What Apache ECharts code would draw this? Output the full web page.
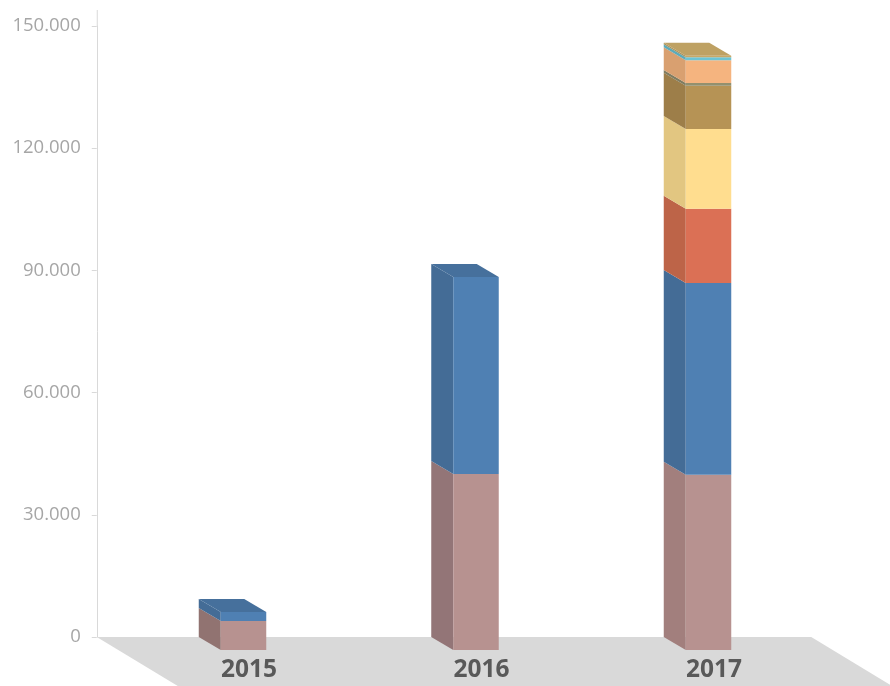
<!DOCTYPE html>
<html>
<head>
<meta charset="utf-8">
<style>html,body{margin:0;padding:0;background:#fff}#chart{width:890px;height:686px}</style>
<script src="https://cdn.jsdelivr.net/npm/echarts@6/dist/echarts.min.js"></script>
</head>
<body>
<div id="chart"></div>
<script>
const categories = ['2015', '2016', '2017']
const tickMax = 150000
const tickStep = 30000

// stacked from the floor up
const layerRose   = [7100, 43200, 43000]
const layerBlue   = [2200, 48400, 47100]
const layerRed    = [0, 0, 18200]
const layerYellow = [0, 0, 19600]
const layerBrown  = [0, 0, 10600]
const layerOlive  = [0, 0, 700]
const layerOrange = [0, 0, 5600]
const layerCyan   = [0, 0, 700]
const layerTan    = [0, 0, 400]

const layers = [layerRose, layerBlue, layerRed, layerYellow, layerBrown, layerOlive, layerOrange, layerCyan, layerTan]
const frontColors = ['#b79290', '#4f80b3', '#db7055', '#ffdd8f', '#b69355', '#93906e', '#f5b47f', '#6cc4d4', '#c8a867']
const sideColors  = ['#a27f7d', '#446c96', '#bd6448', '#e2c681', '#9d7e49', '#7f7c60', '#d9a070', '#5eaab8', '#ad9259']
const topColors   = ['#a27f7d', '#46709c', '#bd6448', '#e2c681', '#9d7e49', '#7f7c60', '#d9a070', '#5eaab8', '#bea163']
const roseSideByCat = ['#917371', '#937577', '#a27f7d']

const DEPTH_X = 22, DEPTH_Y = 13, BAR_W = 45.5

const fmtTick = v => String(v).replace(/\B(?=(\d{3})+$)/g, '.')

function renderFloor(params, api) {
  const cs = params.coordSys
  const y0 = cs.y + cs.height
  const l = cs.x - 8, r = cs.x + cs.width + 9
  return {
    type: 'group',
    children: [
      { type: 'polygon', shape: { points: [[l, y0], [r, y0], [r + 81, y0 + 49], [l + 81, y0 + 49]] }, style: { fill: '#d9d9d9' } },
      { type: 'line', shape: { x1: l + .5, y1: cs.y, x2: l + .5, y2: cs.y - 16 }, style: { stroke: '#d9d9d9', lineWidth: 1 } },
    ],
  }
}

function makeRenderBar(layerIdx) {
  return function (params, api) {
    const cat = api.value(0), lo = api.value(1), hi = api.value(2)
    if (hi <= lo) return { type: 'group', children: [] }
    const pLo = api.coord([cat, lo]), pHi = api.coord([cat, hi])
    const bl = pLo[0] - BAR_W / 2 + 0.5
    const br = bl + BAR_W
    const dx = DEPTH_X, dy = DEPTH_Y
    const sideFill = layerIdx === 0 ? roseSideByCat[cat] : sideColors[layerIdx]
    const children = [
      { type: 'polygon', shape: { points: [[bl, pHi[1]], [bl + dx, pHi[1] + dy], [bl + dx, pLo[1] + dy], [bl, pLo[1]]] },
        style: { fill: sideFill } },
      { type: 'rect', shape: { x: bl + dx, y: pHi[1] + dy, width: BAR_W, height: pLo[1] - pHi[1] },
        style: { fill: frontColors[layerIdx] } },
    ]
    // only the highest layer of a column shows its lid
    const isTop = !layers.slice(layerIdx + 1).some(a => a[cat] > 0)
    if (isTop) {
      children.push({ type: 'polygon', shape: { points: [[bl, pHi[1]], [br, pHi[1]], [br + dx, pHi[1] + dy], [bl + dx, pHi[1] + dy]] },
        style: { fill: topColors[layerIdx] } })
    }
    return { type: 'group', children }
  }
}

const barSeries = layers.map((vals, idx) => ({
  type: 'custom',
  z: 2 + idx,
  renderItem: makeRenderBar(idx),
  encode: { x: 0, y: 2 },
  silent: true,
  data: vals.map((v, c) => {
    const below = layers.slice(0, idx).reduce((s, a) => s + a[c], 0)
    return [c, below, below + v]
  }),
}))

const chart = echarts.init(document.getElementById('chart'), null, { renderer: 'canvas' })
chart.setOption({
  animation: false,
  backgroundColor: '#fff',
  grid: { left: 104.75, top: 26, width: 697.5, height: 611 },
  xAxis: {
    type: 'category', data: categories,
    axisLine: { show: false }, axisTick: { show: false },
    axisLabel: { color: '#595959', fontFamily: 'Open Sans', fontWeight: 'bold', fontSize: 24.5, margin: 21, padding: [0, 0, 0, 56] },
  },
  yAxis: {
    type: 'value', min: 0, max: tickMax, interval: tickStep, offset: 8,
    splitLine: { show: false },
    axisLine: { show: true, lineStyle: { color: '#d9d9d9' } },
    axisTick: { show: true, length: 5, lineStyle: { color: '#d9d9d9' } },
    axisLabel: { color: '#a6a6a6', fontFamily: 'Open Sans', fontSize: 18.5, margin: 16, padding: [2, 0, 0, 0], formatter: fmtTick },
  },
  series: [
    { type: 'custom', z: -1, silent: true, renderItem: renderFloor, encode: { x: 0, y: 1 }, data: [[0, 0]] },
    ...barSeries,
  ],
})
</script>
</body>
</html>
